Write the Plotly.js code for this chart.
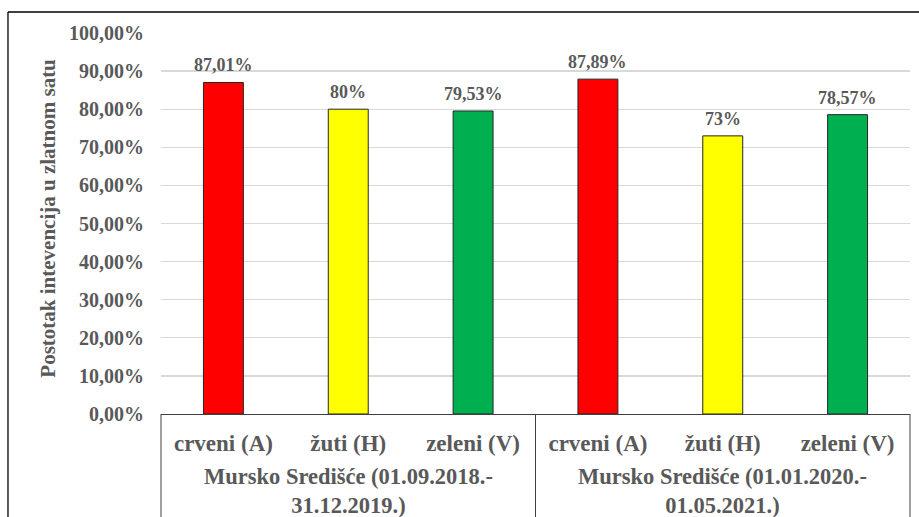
<!DOCTYPE html>
<html>
<head>
<meta charset="utf-8">
<script src="https://cdn.plot.ly/plotly-3.0.1.min.js"></script>
<style>html,body{margin:0;padding:0;background:#fff;}#chart{width:919px;height:517px;}</style>
</head>
<body>
<div id="chart"></div>
<script>
// ---- data ----
const groups = ["Mursko Središće (01.09.2018.-<br>31.12.2019.)", "Mursko Središće (01.01.2020.-<br>01.05.2021.)"];
const categories = ["crveni (A)", "žuti (H)", "zeleni (V)"];
const valuesGroup1 = [87.01, 80, 79.53];
const valuesGroup2 = [87.89, 73, 78.57];
const labelsGroup1 = ["87,01%", "80%", "79,53%"];
const labelsGroup2 = ["87,89%", "73%", "78,57%"];
const barColors = ["#FF0000", "#FFFF00", "#00B050"];
const yTickVals = [0, 10, 20, 30, 40, 50, 60, 70, 80, 90, 100];
const yTickText = ["0,00%", "10,00%", "20,00%", "30,00%", "40,00%", "50,00%", "60,00%", "70,00%", "80,00%", "90,00%", "100,00%"];
const yTitle = "Postotak intevencija u zlatnom satu";

// ---- build ----
const values = valuesGroup1.concat(valuesGroup2);
const labels = labelsGroup1.concat(labelsGroup2);
const xs = values.map((v, i) => i);
const tickText = categories.concat(categories);
const colors = barColors.concat(barColors);

const FONT = "Liberation Serif";
const GRAY = "#595959";

const trace = {
  type: "bar",
  x: xs,
  y: values,
  width: 0.32,
  marker: {color: colors, line: {color: "#262626", width: 1}},
  hoverinfo: "skip"
};

const annotations = [];
xs.forEach((x, i) => {
  annotations.push({
    x: x, y: values[i], xref: "x", yref: "y",
    text: labels[i], showarrow: false, yanchor: "bottom", xanchor: "center", yshift: 5,
    font: {family: FONT, size: 18, color: GRAY, weight: "bold"}
  });
});
groups.forEach((g, gi) => {
  annotations.push({
    x: gi * categories.length + (categories.length - 1) / 2, y: -0.203,
    xref: "x", yref: "paper", xanchor: "center",
    text: g, showarrow: false, yanchor: "middle",
    font: {family: FONT, size: 22.5, color: GRAY, weight: "bold"}
  });
});
annotations.push({
  x: -0.151, y: 0.515, xref: "paper", yref: "paper", textangle: -90,
  xanchor: "center", yanchor: "middle",
  text: yTitle, showarrow: false,
  font: {family: FONT, size: 21, color: GRAY, weight: "bold"}
});

const LINE = {color: "#404040", width: 1};
const shapes = [
  {type: "line", xref: "paper", yref: "paper", x0: 0, x1: 0, y0: 0, y1: -0.3, line: LINE},
  {type: "line", xref: "paper", yref: "paper", x0: 1, x1: 1, y0: 0, y1: -0.3, line: LINE},
  {type: "line", xref: "x", yref: "paper", x0: categories.length - 0.5, x1: categories.length - 0.5, y0: 0, y1: -0.3, line: LINE},
  // outer chart frame
  {type: "line", xref: "paper", yref: "paper", x0: -0.2043, x1: 1.02, y0: 1.0551, y1: 1.0551, line: {color: "#000", width: 1.3}},
  {type: "line", xref: "paper", yref: "paper", x0: -0.2043, x1: -0.2043, y0: 1.0551, y1: -0.3, line: {color: "#000", width: 1.3}}
];

const layout = {
  width: 919, height: 517,
  margin: {l: 161, r: 9, t: 33, b: 103},
  paper_bgcolor: "#fff", plot_bgcolor: "#fff",
  showlegend: false,
  bargap: 0,
  xaxis: {
    range: [-0.5, xs.length - 0.5],
    tickvals: xs, ticktext: tickText,
    tickfont: {family: FONT, size: 23, color: GRAY, weight: "bold"},
    ticks: "", ticklabelstandoff: 8,
    showgrid: false, zeroline: false,
    showline: true, linecolor: "#404040", linewidth: 1,
    fixedrange: true
  },
  yaxis: {
    range: [0, 100],
    tickvals: yTickVals, ticktext: yTickText,
    tickfont: {family: FONT, size: 20, color: GRAY, weight: "bold"},
    ticks: "", ticklabelstandoff: 16,
    showgrid: true, gridcolor: "#d9d9d9", gridwidth: 1.3,
    zeroline: false, showline: false,
    fixedrange: true
  },
  annotations: annotations,
  shapes: shapes
};

Plotly.newPlot("chart", [trace], layout, {displayModeBar: false, staticPlot: true});
</script>
</body>
</html>
